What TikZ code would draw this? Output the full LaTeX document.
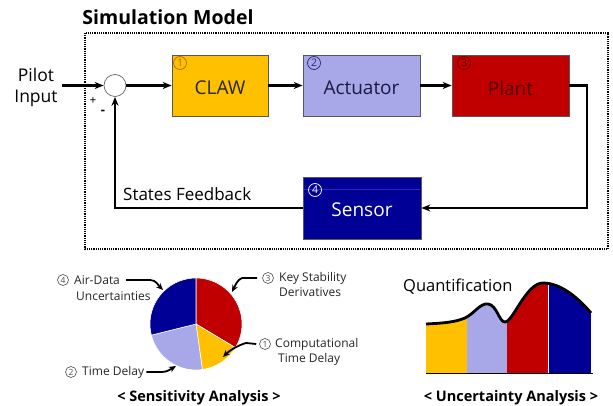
\documentclass[tikz,border=0pt]{standalone}
\usepackage{fontspec}
\setmainfont{Open Sans}
\usetikzlibrary{arrows.meta}
\newcommand\fsz[1]{\fontsize{#1}{#1}\selectfont}
\definecolor{cOrange}{RGB}{255,192,0}
\definecolor{cLav}{RGB}{168,168,232}
\definecolor{cRed}{RGB}{192,0,0}
\definecolor{cNavy}{RGB}{0,0,150}
\definecolor{cNumOr}{RGB}{175,105,0}
\definecolor{cNumNv}{RGB}{40,40,120}
\definecolor{cNumRd}{RGB}{110,0,0}
\definecolor{cTxtNv}{RGB}{25,25,70}
\definecolor{cTxtRd}{RGB}{85,0,0}
\begin{document}
\begin{tikzpicture}[x=1pt,y=-1pt,
  blk/.style={draw=black!65, line width=0.7pt, minimum height=61pt, inner sep=0pt},
  blabel/.style={font=\fsz{19}, inner sep=0pt},
  num/.style={circle, draw=#1, text=#1, line width=0.7pt, inner sep=0pt, minimum size=13pt, font=\fsz{10.5}},
  pnum/.style={circle, draw=black!70, text=black!70, line width=0.6pt, inner sep=0pt, minimum size=11pt, font=\fsz{8.5}},
  flow/.style={line width=2.4pt, -{Stealth[length=9pt,width=7pt]}},
  pointer/.style={line width=1.8pt, -{Stealth[length=7pt,width=6pt]}},
  plabel/.style={font=\fsz{12}, text=black!85, anchor=west, inner sep=0pt},
  slice/.style={draw=white, line width=0.6pt},
]
\useasboundingbox (0,0) rectangle (613,406);

% title and model frame
\node[font=\fsz{19.5}\bfseries] (title) at (168,17) {Simulation Model};
\draw[line width=1.3pt, dash pattern=on 1.2pt off 1pt] (85,33) rectangle (608,249);

% input and summing junction
\node[font=\fontsize{17.5}{21}\selectfont, align=center, inner sep=0pt] (pilot) at (36,87) {Pilot\\Input};
\node[circle, draw=black!60, line width=0.7pt, minimum size=22pt, inner sep=0pt, fill=white] (sum) at (115,85.5) {};
\node[font=\fsz{12}, inner sep=0pt] (plus) at (93,101) {+};
\node[font=\fsz{13}\bfseries, inner sep=0pt] (minus) at (103,112) {-};

% blocks
\node[blk, fill=cOrange, minimum width=96pt] (claw) at (220,85.5) {};
\node[blk, fill=cLav, minimum width=117pt] (act) at (361.5,85.5) {};
\node[blk, fill=cRed, minimum width=117pt] (plant) at (510.5,85.5) {};
\node[blk, fill=cNavy, minimum width=118pt, minimum height=62pt] (sensor) at (362,208) {};
\draw[draw={rgb,255:red,40;green,40;blue,190}, line width=0.6pt] (303.6,189) -- (420.4,189);

\node[blabel, text=black!85] (clawt) at ([yshift=-2.5pt]claw.center) {CLAW};
\node[blabel, text=cTxtNv] (actt) at ([yshift=-2.5pt]act.center) {Actuator};
\node[blabel, text=cTxtRd] (plantt) at ([yshift=-2.5pt]plant.center) {Plant};
\node[blabel, text=white] (sensort) at ([yshift=-2pt]sensor.center) {Sensor};

\node[num=cNumOr] (n1) at (180,63) {1};
\node[num=cNumNv] (n2) at (314,63) {2};
\node[num=cNumRd] (n3) at (464,63) {3};
\node[num=white] (n4) at (315,190) {4};

% signal flow
\coordinate (rc) at (587,85.5);
\draw[flow] ([xshift=4pt]pilot.east |- sum) -- (sum.west);
\draw[flow] (sum.east) -- (claw.west);
\draw[flow] (claw.east) -- (act.west);
\draw[flow] (act.east) -- (plant.west);
\draw[flow] (plant.east) -- (rc) |- (sensor.east);
\draw[flow] (sensor.west) -| (sum.south);
\node[font=\fsz{17}, anchor=west, inner sep=0pt] (sfb) at (123,194) {States Feedback};

% sensitivity pie
\coordinate (pc) at (196,324);
\filldraw[slice, fill=cRed] (pc) -- ++(-90:46) arc[start angle=-90, end angle=31, radius=46] -- cycle;
\filldraw[slice, fill=cOrange] (pc) -- ++(31:46) arc[start angle=31, end angle=82, radius=46] -- cycle;
\filldraw[slice, fill=cLav] (pc) -- ++(82:46) arc[start angle=82, end angle=166, radius=46] -- cycle;
\filldraw[slice, fill=cNavy] (pc) -- ++(166:46) arc[start angle=166, end angle=270, radius=46] -- cycle;

\node[pnum] (p4) at (63,280) {4};
\node[plabel] (padt) at (74,280) {Air-Data};
\node[plabel] (punc) at (76,296) {Uncertainties};
\node[pnum] (p3) at (268,278) {3};
\node[plabel] (pkey) at (279,278) {Key Stability};
\node[plabel] (pder) at (279,292) {Derivatives};
\node[pnum] (p1) at (265,344) {1};
\node[plabel] (pcomp) at (275,344) {Computational};
\node[plabel] (pctd) at (278,359) {Time Delay};
\node[pnum] (p2) at (71,372) {2};
\node[plabel] (ptd) at (82,372) {Time Delay};

\coordinate (t4) at (163,290);
\coordinate (t3) at (232,292);
\coordinate (t1) at (223,357);
\coordinate (t2) at (176,366);
\draw[pointer] ([xshift=6pt]padt.east) -- (150,280) .. controls (156,280) and (158,285) .. (t4);
\draw[pointer] ([xshift=-5pt]p3.west) -- (242,278) .. controls (237,280) and (235,286) .. (t3);
\draw[pointer] ([xshift=-3pt]p1.west) -- (246,343) .. controls (239,345) and (230,350) .. (t1);
\draw[pointer] ([xshift=2pt]ptd.east) -- (162,372) .. controls (167,372) and (171,369) .. (t2);

\node[font=\fsz{14.5}\bfseries] (sa) at (199,398) {< Sensitivity Analysis >};

% uncertainty quantification chart
\def\qtop{(426,324) .. controls (446,323) and (455,322) .. (465,318) .. controls (475,313) and (480,303) .. (488,304) .. controls (497,305) and (499,322) .. (505,322) .. controls (513,322) and (526,283) .. (543,283) .. controls (562,283) and (580,300) .. (591,313)}
\begin{scope}
  \clip \qtop -- (591,373) -- (426,373) -- cycle;
  \fill[cOrange] (426,270) rectangle (467,373);
  \fill[cLav] (467,270) rectangle (507,373);
  \fill[cRed] (507,270) rectangle (548,373);
  \fill[cNavy] (548,270) rectangle (591,373);
  \draw[white, line width=0.6pt] (548,270) -- (548,373) (591,270) -- (591,373);
\end{scope}
\draw[line width=2.8pt] \qtop;
\draw[line width=1.5pt] (426,373.5) -- (593,373.5);
\node[font=\fsz{16.5}, anchor=west, inner sep=0pt] (quant) at (403,287) {Quantification};
\node[font=\fsz{14.5}\bfseries] (ua) at (511,398) {< Uncertainty Analysis >};
\end{tikzpicture}
\end{document}
